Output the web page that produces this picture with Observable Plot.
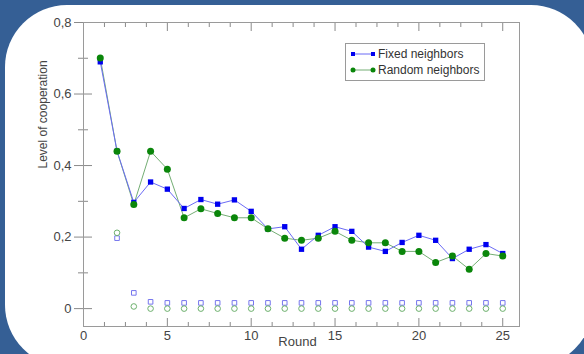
<!DOCTYPE html>
<html>
<head>
<meta charset="utf-8">
<script src="https://cdn.jsdelivr.net/npm/d3@7"></script>
<script src="https://cdn.jsdelivr.net/npm/@observablehq/plot@0.6"></script>
<style>
  html, body { margin: 0; padding: 0; background: #355f95; }
  #wrap { position: relative; width: 584px; height: 354px; overflow: hidden; background: #355f95; }
  #panel { position: absolute; left: 5px; top: 5px; width: 588px; height: 362px; border-radius: 62px; background: #ffffff; }
  #chart { position: absolute; left: 0; top: 0; }
  #chart svg { background: transparent !important; }
  #legend { position: absolute; left: 345px; top: 43px; width: 138px; height: 36px; border: 1px solid #9a9a9a; background: #fff;
            font-family: "Liberation Sans", Arial, sans-serif; font-size: 12px; color: #333; }
  .row { position: absolute; left: 0; height: 16px; }
  .row svg { position: absolute; left: 4px; top: 3px; }
  .row span { position: absolute; left: 32px; top: 1px; white-space: nowrap; }
</style>
</head>
<body>
<div id="wrap">
  <div id="panel"></div>
  <div id="chart"></div>
  <div id="legend">
    <div class="row" style="top:2px">
      <svg width="26" height="10"><line x1="3" y1="5" x2="23" y2="5" stroke="#6b6bf5" stroke-width="1"/><rect x="1" y="3" width="4" height="4" fill="#0000f0"/><rect x="21" y="3" width="4" height="4" fill="#0000f0"/></svg>
      <span>Fixed neighbors</span>
    </div>
    <div class="row" style="top:18px">
      <svg width="26" height="10"><line x1="3" y1="5" x2="23" y2="5" stroke="#74ae74" stroke-width="1"/><circle cx="3" cy="5" r="2.5" fill="#0a860a"/><circle cx="23" cy="5" r="2.5" fill="#0a860a"/></svg>
      <span>Random neighbors</span>
    </div>
  </div>
</div>
<script>
// ---- data ----
const rounds = [1,2,3,4,5,6,7,8,9,10,11,12,13,14,15,16,17,18,19,20,21,22,23,24,25];
const fixedNeighbors = [0.690,0.440,0.297,0.354,0.334,0.280,0.305,0.292,0.304,0.272,0.223,0.229,0.166,0.205,0.229,0.216,0.172,0.160,0.185,0.205,0.191,0.140,0.166,0.179,0.154];
const randomNeighbors = [0.701,0.440,0.291,0.440,0.390,0.254,0.279,0.266,0.254,0.254,0.223,0.197,0.191,0.197,0.216,0.191,0.184,0.184,0.160,0.160,0.129,0.147,0.110,0.154,0.147];
const openRounds = [2,3,4,5,6,7,8,9,10,11,12,13,14,15,16,17,18,19,20,21,22,23,24,25];
const fixedOpen = [0.197,0.044,0.019,0.016,0.016,0.016,0.016,0.016,0.016,0.016,0.016,0.016,0.016,0.016,0.016,0.016,0.016,0.016,0.016,0.016,0.016,0.016,0.016,0.016];
const randomOpen = [0.212,0.006,0.000,0.000,0.000,0.000,0.000,0.000,0.000,0.000,0.000,0.000,0.000,0.000,0.000,0.000,0.000,0.000,0.000,0.000,0.000,0.000,0.000,0.000];
const xMajorTicks = [0,5,10,15,20,25];
const xMinorTicks = [1.25,2.5,3.75,6.25,7.5,8.75,11.25,12.5,13.75,16.25,17.5,18.75,21.25,22.5,23.75];
const yMajorTicks = [0,0.2,0.4,0.6,0.8];
const yMinorTicks = [0.1,0.3,0.5,0.7];
const xLabel = "Round";
const yLabel = "Level of cooperation";

const fixedData = rounds.map((r, i) => ({round: r, value: fixedNeighbors[i]}));
const randomData = rounds.map((r, i) => ({round: r, value: randomNeighbors[i]}));
const fixedOpenData = openRounds.map((r, i) => ({round: r, value: fixedOpen[i]}));
const randomOpenData = openRounds.map((r, i) => ({round: r, value: randomOpen[i]}));

const font = "'Liberation Sans', Arial, sans-serif";
const tickColor = "#8a8a8a";
const textColor = "#444";
const fmt = d => d === 0 ? "0" : d.toFixed(1).replace(".", ",");

const chart = Plot.plot({
  width: 584,
  height: 354,
  marginLeft: 83,
  marginRight: 65,
  marginTop: 22,
  marginBottom: 28,
  style: {fontFamily: font, fontSize: "12px", background: "transparent", overflow: "visible"},
  x: {domain: [0, 26], axis: null},
  y: {domain: [-0.05, 0.8], axis: null},
  marks: [
    Plot.axisX(xMinorTicks, {anchor: "bottom", tickSize: 4, dy: -4, fill: "none", label: null, stroke: tickColor}),
    Plot.axisX(xMinorTicks, {anchor: "top", tickSize: 4, dy: 4, fill: "none", label: null, stroke: tickColor}),
    Plot.axisX(xMajorTicks.filter(t => t > 0), {anchor: "bottom", tickSize: 8, dy: -8, fill: "none", label: null, stroke: tickColor}),
    Plot.axisX(xMajorTicks.filter(t => t > 0), {anchor: "top", tickSize: 8, dy: 8, fill: "none", label: null, stroke: tickColor}),
    Plot.axisX(xMajorTicks, {anchor: "bottom", tickSize: 0, tickPadding: 4, label: null, fill: textColor, fontSize: 13, tickFormat: d => String(d)}),
    Plot.axisY(yMinorTicks, {anchor: "left", tickSize: 10, dx: 5, fill: "none", label: null, stroke: tickColor}),
    Plot.axisY(yMajorTicks, {anchor: "left", tickSize: 18, dx: 9, tickPadding: 3, label: null, fill: textColor, stroke: tickColor, fontSize: 13, tickFormat: fmt}),
    Plot.frame({stroke: "#9a9a9a"}),
    // open markers
    Plot.dot(fixedOpenData, {x: "round", y: "value", symbol: "square", r: 2.6, stroke: "#7676ee", strokeWidth: 1, fill: "none"}),
    Plot.dot(randomOpenData, {x: "round", y: "value", symbol: "circle", r: 2.8, stroke: "#6cb06c", strokeWidth: 1, fill: "none"}),
    // series lines
    Plot.line(randomData, {x: "round", y: "value", stroke: "#74ae74", strokeWidth: 1}),
    Plot.line(fixedData, {x: "round", y: "value", stroke: "#6b6bf5", strokeWidth: 1}),
    Plot.dot(fixedData, {x: "round", y: "value", symbol: "square", r: 3.0, fill: "#0000f0", stroke: "none"}),
    Plot.dot(randomData, {x: "round", y: "value", symbol: "circle", r: 3.5, fill: "#0a860a", stroke: "none"}),
    // axis titles
    Plot.text([yLabel], {frameAnchor: "left", dx: -40, dy: -6, rotate: -90, fontSize: 12, fill: textColor, fontFamily: font}),
    Plot.text([xLabel], {frameAnchor: "bottom", dx: -4, dy: 19, fontSize: 13, fill: textColor, fontFamily: font})
  ]
});
document.getElementById("chart").appendChild(chart);
</script>
</body>
</html>
